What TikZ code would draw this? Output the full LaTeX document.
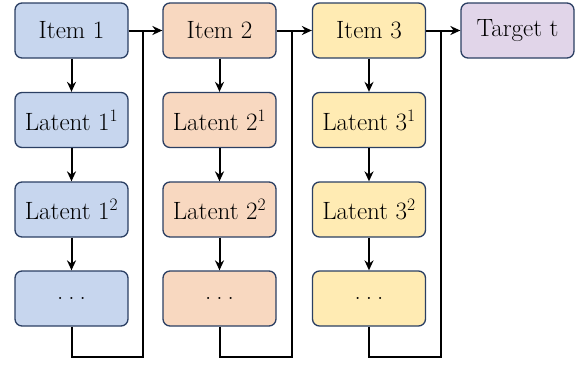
\documentclass[tikz,border=0pt]{standalone}
\usepackage{fontspec}
\usetikzlibrary{arrows.meta}
\definecolor{bluefill}{HTML}{C7D6EE}
\definecolor{peachfill}{HTML}{F8D8C0}
\definecolor{yellowfill}{HTML}{FFEBB3}
\definecolor{lavfill}{HTML}{E1D5E9}
\definecolor{boxline}{HTML}{2B3F63}
% spaced ellipsis for the open-ended boxes
\newcommand{\spaceddots}{.\hspace{5pt}.\hspace{5pt}.}
\begin{document}
\begin{tikzpicture}[x=1pt,y=-1pt,
  box/.style={draw=boxline, line width=1.3pt, rounded corners=7pt,
    minimum width=113pt, minimum height=55pt, inner sep=0pt,
    font=\fontsize{25}{30}\selectfont},
  conn/.style={line width=2pt, -{Stealth[length=10pt,width=9pt]}},
  wire/.style={line width=2pt}]
\useasboundingbox (0,0) rectangle (584,367);
% column 1
\node[box, fill=bluefill]   (i1) at (71.5,30.5)  {Item 1};
\node[box, fill=bluefill]   (a1) at (71.5,120)   {Latent 1\textsuperscript{1}};
\node[box, fill=bluefill]   (b1) at (71.5,209.5) {Latent 1\textsuperscript{2}};
\node[box, fill=bluefill]   (c1) at (71.5,298.5) {\spaceddots};
% column 2
\node[box, fill=peachfill]  (i2) at (219.5,30.5)  {Item 2};
\node[box, fill=peachfill]  (a2) at (219.5,120)   {Latent 2\textsuperscript{1}};
\node[box, fill=peachfill]  (b2) at (219.5,209.5) {Latent 2\textsuperscript{2}};
\node[box, fill=peachfill]  (c2) at (219.5,298.5) {\spaceddots};
% column 3
\node[box, fill=yellowfill] (i3) at (369,30.5)  {Item 3};
\node[box, fill=yellowfill] (a3) at (369,120)   {Latent 3\textsuperscript{1}};
\node[box, fill=yellowfill] (b3) at (369,209.5) {Latent 3\textsuperscript{2}};
\node[box, fill=yellowfill] (c3) at (369,298.5) {\spaceddots};
% target
\node[box, fill=lavfill]    (t)  at (517.5,30.5) {Target t};
% return wires
\coordinate (r1) at (143,357);
\coordinate (r2) at (292,357);
\coordinate (r3) at (441,357);
% vertical chains
\foreach \c in {1,2,3}{
  \draw[conn] (i\c) -- (a\c);
  \draw[conn] (a\c) -- (b\c);
  \draw[conn] (b\c) -- (c\c);
}
% horizontal links
\draw[conn] (i1) -- (i2);
\draw[conn] (i2) -- (i3);
\draw[conn] (i3) -- (t);
% loops from the last latent back to the next item
\draw[wire] (c1.south) |- (r1) -- (r1 |- i1);
\draw[wire] (c2.south) |- (r2) -- (r2 |- i2);
\draw[wire] (c3.south) |- (r3) -- (r3 |- i3);
\end{tikzpicture}
\end{document}
